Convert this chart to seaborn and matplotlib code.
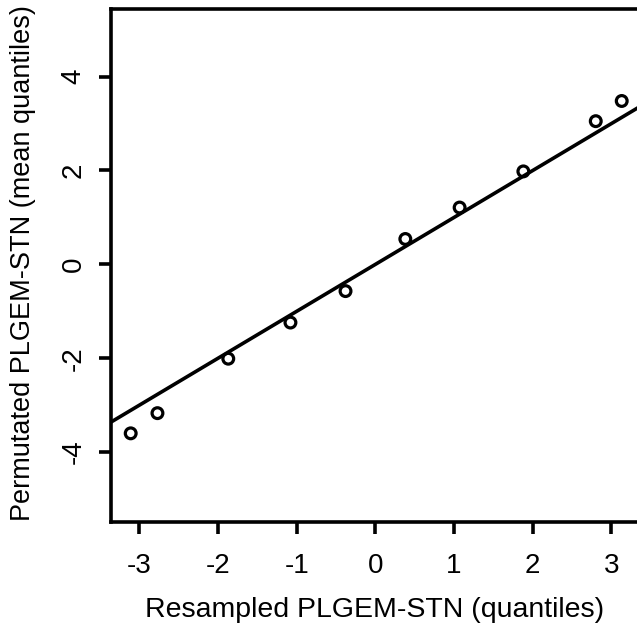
import numpy as np
import pandas as pd
import matplotlib
matplotlib.use("Agg")
import matplotlib.pyplot as plt
import seaborn as sns

# quantiles
resampled_q = [-3.11, -2.77, -1.87, -1.08, -0.38, 0.38, 1.07, 1.88, 2.80, 3.13]
permutated_q = [-3.60, -3.17, -2.01, -1.24, -0.57, 0.54, 1.21, 1.98, 3.05, 3.48]

# reference line (y = a + b*x)
line_intercept = 0.0
line_slope = 1.0

x_ticks = [-3, -2, -1, 0, 1, 2, 3]
y_ticks = [-4, -2, 0, 2, 4]

df = pd.DataFrame({"resampled": resampled_q, "permutated": permutated_q})

sns.set_style("ticks")
plt.rcParams['font.family'] = ['Liberation Sans', 'DejaVu Sans']
plt.rcParams['text.color'] = 'black'
plt.rcParams['axes.labelcolor'] = 'black'
plt.rcParams['xtick.color'] = 'black'
plt.rcParams['ytick.color'] = 'black'

fig = plt.figure(figsize=(6.37, 6.32), dpi=100)
ax = fig.add_axes([0.1743, 0.1747, 0.8289, 0.8111])

sns.scatterplot(data=df, x="resampled", y="permutated", ax=ax,
                marker="o", s=60, facecolor="none", edgecolor="black",
                linewidth=2.3, zorder=3)
ax.axline((0, line_intercept), slope=line_slope, color="black", lw=2.6, zorder=2)

ax.set_xlim(-3.36, 3.35)
ax.set_ylim(-5.48, 5.44)
ax.set_xticks(x_ticks)
ax.set_yticks(y_ticks)
ax.set_xticklabels([str(t) for t in x_ticks], fontsize=20)
ax.set_yticklabels([str(t) for t in y_ticks], fontsize=20, rotation=90, va="center")
ax.tick_params(length=8.5, width=2.6, color="black", labelcolor="black")
ax.tick_params(axis="x", pad=14)
ax.tick_params(axis="y", pad=9)

for sp in ax.spines.values():
    sp.set_linewidth(2.6)
    sp.set_color("black")

ax.set_xlabel("Resampled PLGEM-STN (quantiles)", fontsize=20.5, color="black")
ax.set_ylabel("Permutated PLGEM-STN (mean quantiles)", fontsize=19.5, color="black")
ax.xaxis.set_label_coords(0.5, -0.1725)
ax.xaxis.label.set_va("center")
ax.yaxis.set_label_coords(-0.167, 0.505)
ax.yaxis.label.set_va("center")

fig.savefig("out.png", dpi=100)
